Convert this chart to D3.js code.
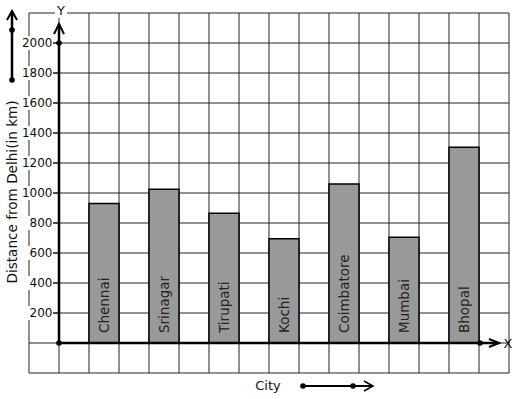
<!DOCTYPE html>
<html><head><meta charset="utf-8">
<script src="https://cdn.jsdelivr.net/npm/d3@7"></script>
<style>html,body{margin:0;padding:0;background:#fff;}svg{display:block;}text{font-family:"DejaVu Sans",sans-serif;}</style>
</head><body>
<script>
const cities = ["Chennai","Srinagar","Tirupati","Kochi","Coimbatore","Mumbai","Bhopal"];
const distances = [930, 1025, 865, 695, 1060, 705, 1305];
const yTicks = [200,400,600,800,1000,1200,1400,1600,1800,2000];
const yTitle = "Distance from Delhi(in km)";
const xTitle = "City";

const W = 517, H = 399;
const svg = d3.select("body").append("svg").attr("width", W).attr("height", H);

const y = d3.scaleLinear().domain([0, 2000]).range([343, 43]);
const x = d3.scaleBand().domain(cities).range([74, 494]).paddingInner(0.5).paddingOuter(0.25);
const gx = d3.scaleLinear().domain([0, 16]).range([29, 509]);

// grid
const grid = svg.append("g").attr("stroke", "#222").attr("stroke-width", 1);
d3.range(0, 17).forEach(i => {
  grid.append("line").attr("x1", gx(i)).attr("x2", gx(i)).attr("y1", y(2200)).attr("y2", y(-200));
});
d3.range(-200, 2201, 200).forEach(v => {
  grid.append("line").attr("x1", gx(0)).attr("x2", gx(16)).attr("y1", y(v)).attr("y2", y(v));
});

// tick labels with white backgrounds
const tl = svg.append("g");
yTicks.forEach(v => {
  tl.append("rect").attr("x", 22).attr("y", y(v) - 7).attr("width", 31).attr("height", 14).attr("fill", "#fff");
  tl.append("text").attr("x", 52.5).attr("y", y(v)).attr("dy", "0.36em").attr("text-anchor", "end")
    .attr("font-size", 12).attr("fill", "#111").text(v);
  tl.append("line").attr("x1", 53).attr("x2", 59).attr("y1", y(v)).attr("y2", y(v)).attr("stroke", "#111").attr("stroke-width", 1);
});

// bars
svg.append("g").selectAll("rect").data(cities).join("rect")
  .attr("x", d => x(d)).attr("width", x.bandwidth())
  .attr("y", (d, i) => y(distances[i])).attr("height", (d, i) => y(0) - y(distances[i]))
  .attr("fill", "#999").attr("stroke", "#000").attr("stroke-width", 1.5);

svg.append("g").selectAll("text").data(cities).join("text")
  .attr("transform", d => `translate(${x(d) + x.bandwidth() / 2},${y(0) - 10}) rotate(-90)`)
  .attr("dy", "0.36em").attr("font-size", 13.5).attr("fill", "#222").text(d => d);

// axes
const ax = svg.append("g").attr("stroke", "#000").attr("fill", "none").attr("stroke-width", 2.5);
ax.append("line").attr("x1", 59).attr("x2", 59).attr("y1", y(0)).attr("y2", 24);
ax.append("path").attr("d", "M54,34L59,24L64,34").attr("stroke-width", 2);
ax.append("line").attr("x1", 59).attr("x2", 499).attr("y1", y(0)).attr("y2", y(0));
ax.append("path").attr("d", "M489,339L499,343L489,347").attr("stroke-width", 2);
// left arrow
ax.append("line").attr("x1", 12).attr("x2", 12).attr("y1", 80).attr("y2", 11);
ax.append("path").attr("d", "M7,20L12,11L17,20").attr("stroke-width", 2);
// bottom arrow
ax.append("line").attr("x1", 303).attr("x2", 373).attr("y1", 386).attr("y2", 386).attr("stroke-width", 2);
ax.append("path").attr("d", "M364,381L373,386L364,391").attr("stroke-width", 1.5);

const dots = [[59, y(0)], [59, y(2000)], [480, y(0)], [12, 30], [12, 80], [303, 386], [353, 386]];
svg.append("g").selectAll("circle").data(dots).join("circle")
  .attr("cx", d => d[0]).attr("cy", d => d[1]).attr("r", 2.8).attr("fill", "#000");

// axis letters
svg.append("rect").attr("x", 55).attr("y", 4).attr("width", 12).attr("height", 14).attr("fill", "#fff");
svg.append("text").attr("x", 61).attr("y", 10).attr("dy", "0.36em").attr("text-anchor", "middle").attr("font-size", 13).attr("fill", "#111").text("Y");
svg.append("text").attr("x", 508).attr("y", 343).attr("dy", "0.36em").attr("text-anchor", "middle").attr("font-size", 13).attr("fill", "#111").text("X");

// titles
svg.append("text").attr("transform", "translate(12,192) rotate(-90)").attr("dy", "0.36em").attr("text-anchor", "middle")
  .attr("font-size", 13.6).attr("fill", "#111").text(yTitle);
svg.append("text").attr("x", 268).attr("y", 385).attr("dy", "0.36em").attr("text-anchor", "middle")
  .attr("font-size", 13).attr("fill", "#111").text(xTitle);
</script>
</body></html>
